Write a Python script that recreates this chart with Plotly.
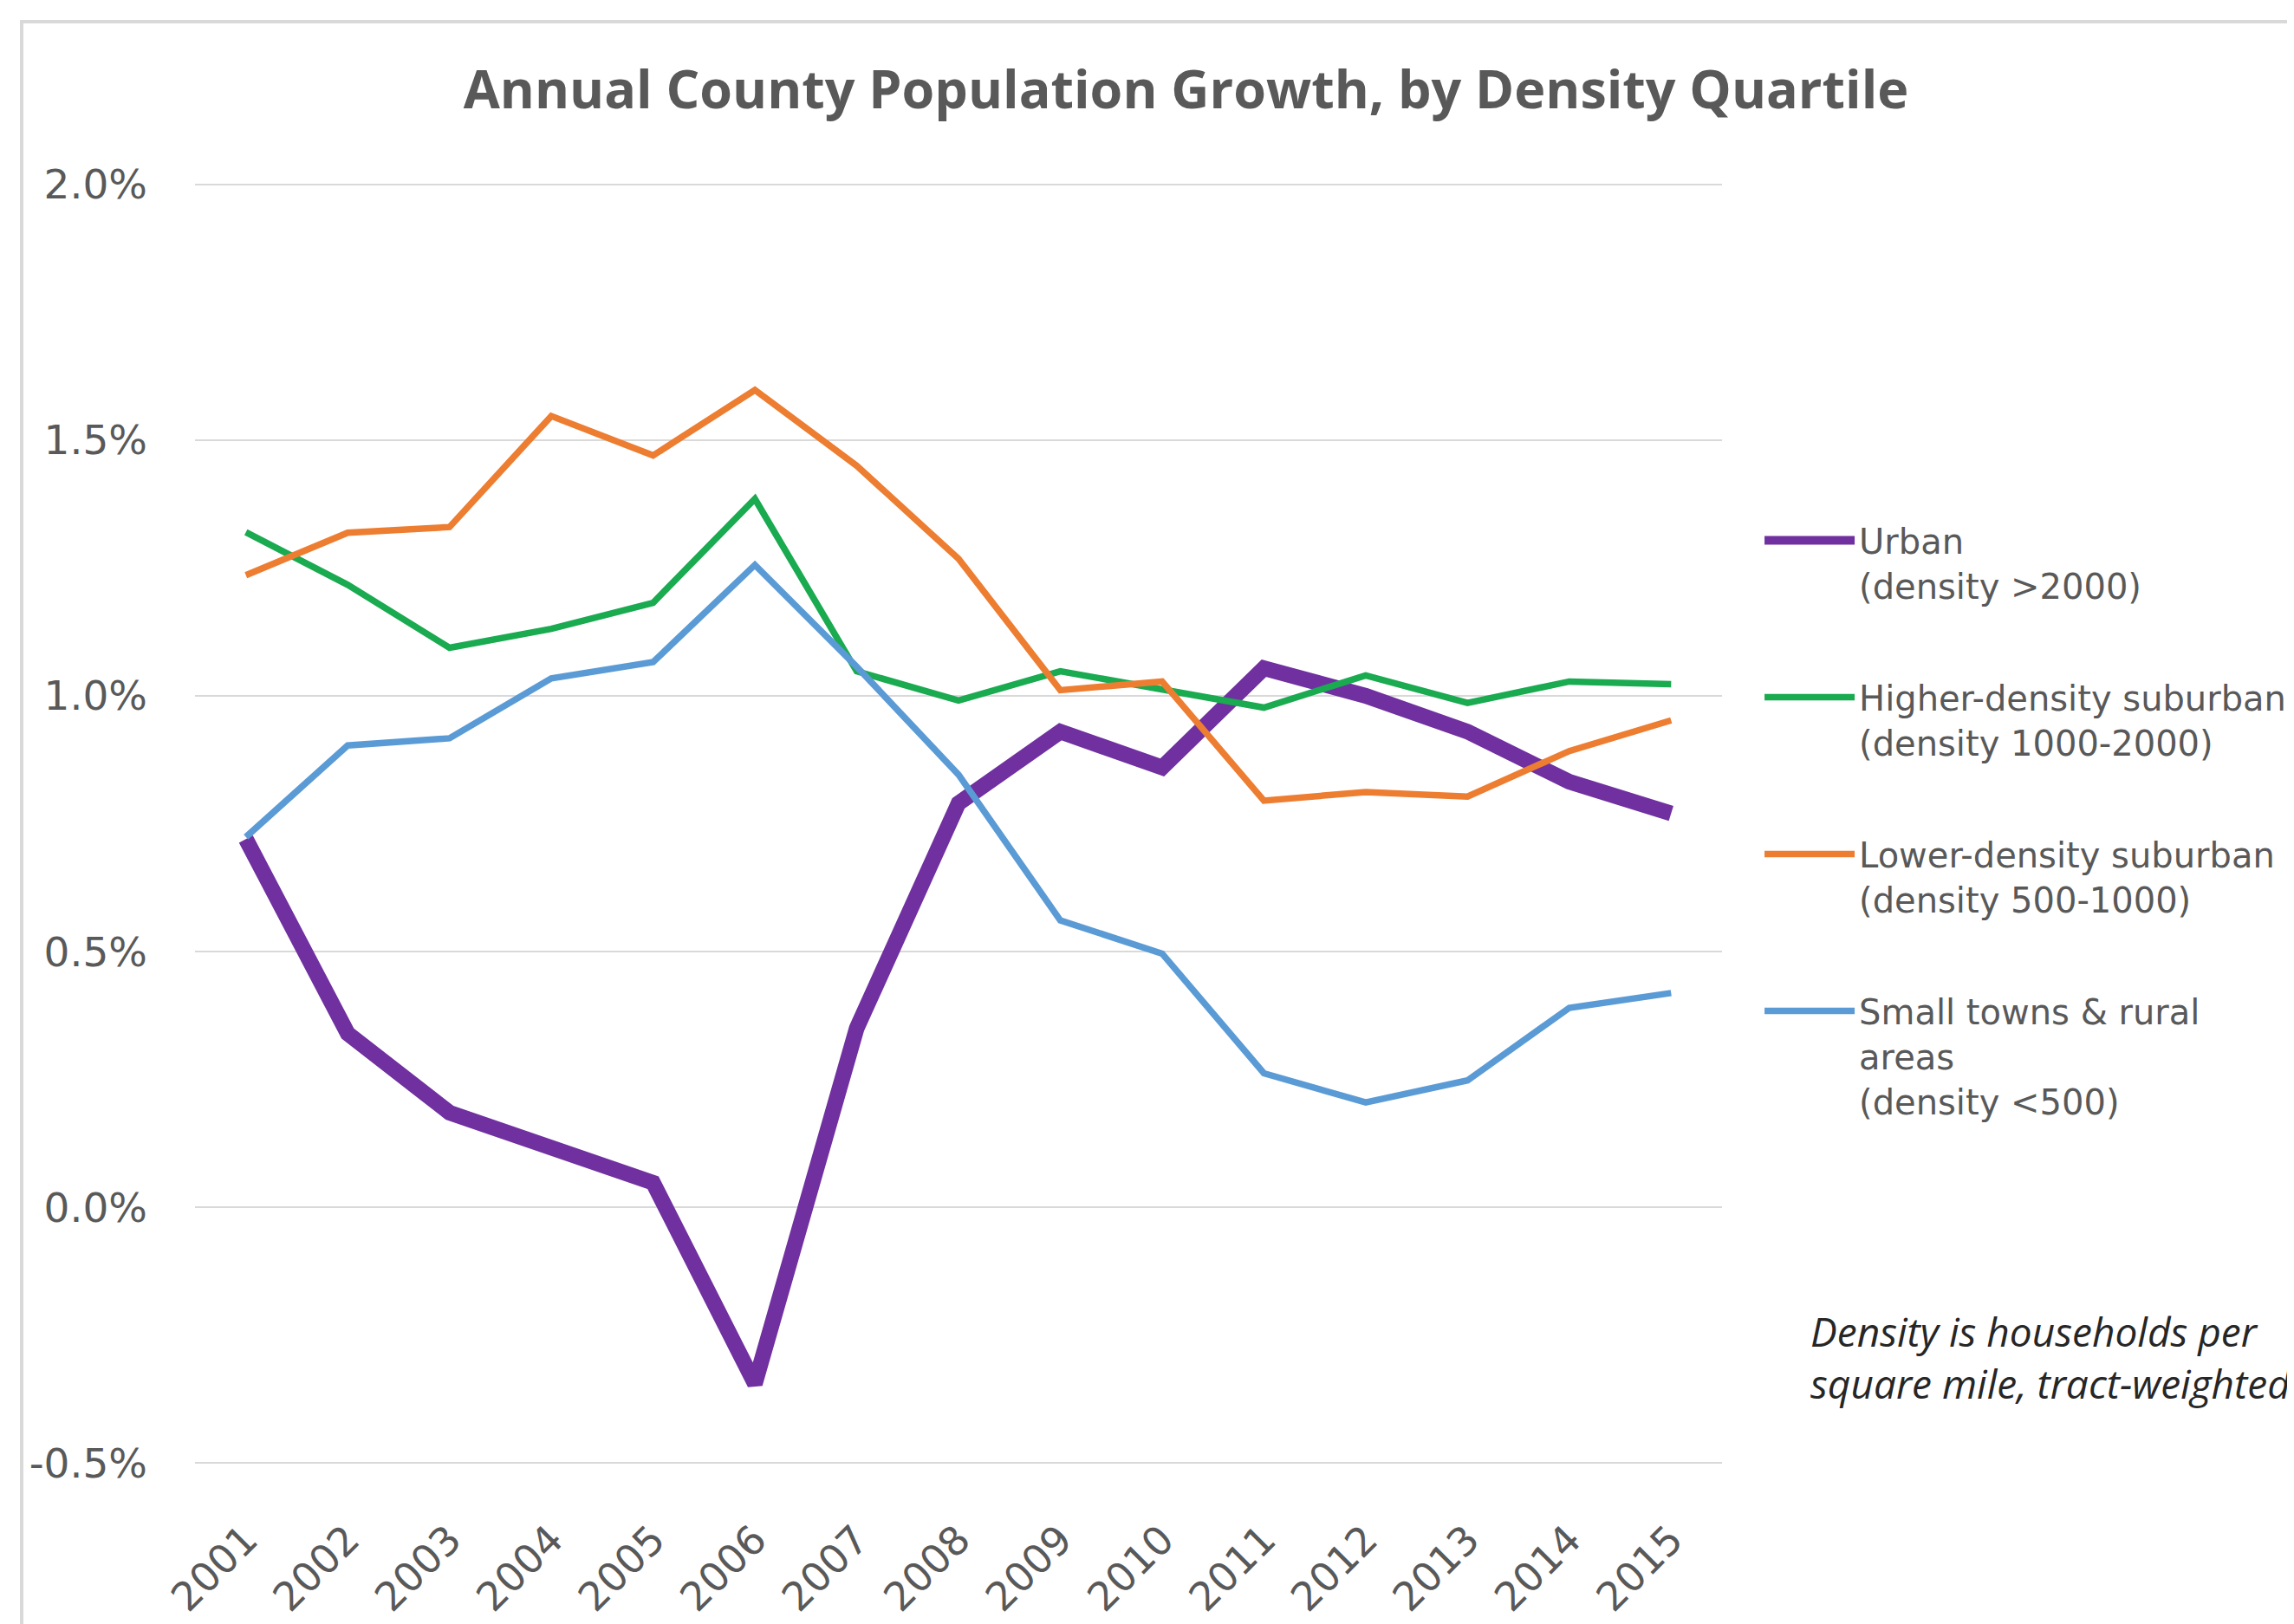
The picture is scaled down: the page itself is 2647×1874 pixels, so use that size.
import plotly.graph_objects as go

years = [str(y) for y in range(2001, 2016)]

urban = [0.72, 0.34, 0.185, 0.12, 0.048, -0.345, 0.35, 0.79, 0.93, 0.86, 1.054, 1.0, 0.93, 0.832, 0.77]
higher = [1.32, 1.217, 1.094, 1.131, 1.182, 1.385, 1.048, 0.991, 1.048, 1.011, 0.977, 1.04, 0.986, 1.028, 1.023]
lower = [1.236, 1.319, 1.33, 1.547, 1.47, 1.598, 1.45, 1.268, 1.011, 1.028, 0.795, 0.812, 0.803, 0.892, 0.952]
rural = [0.724, 0.903, 0.917, 1.034, 1.066, 1.256, 1.057, 0.846, 0.561, 0.496, 0.262, 0.205, 0.248, 0.39, 0.419]

series_names = [
    "Urban<br>(density >2000)",
    "Higher-density suburban<br>(density 1000-2000)",
    "Lower-density suburban<br>(density 500-1000)",
    "Small towns & rural<br>areas<br>(density <500)",
]
series_values = [urban, higher, lower, rural]
series_colors = ["#7030A0", "#1AAA50", "#ED7D31", "#5B9BD5"]
series_widths = [18, 7.5, 7.5, 7.5]

y_ticks = [-0.5, 0.0, 0.5, 1.0, 1.5, 2.0]

title_text = "Annual County Population Growth, by Density Quartile"
note_text = "<i>Density is households per<br>square mile, tract-weighted</i>"

fig = go.Figure()
for i, (name, vals, col, w) in enumerate(zip(series_names, series_values, series_colors, series_widths)):
    fig.add_trace(go.Scatter(
        x=years, y=vals, mode="lines", name=name,
        line=dict(color=col, width=w),
        legendgroup=f"g{i}",
    ))

W, H = 2647, 1874
ml, mr, mt, mb = 217, 668, 203, 177
pw, ph = W - ml - mr, H - mt - mb

fig.update_layout(
    width=W, height=H,
    margin=dict(l=ml, r=mr, t=mt, b=mb),
    paper_bgcolor="white", plot_bgcolor="white",
    title=dict(
        text=title_text, x=0.514, xanchor="center", y=1 - 96 / H, yanchor="middle",
        xref="container", yref="container",
        font=dict(family="Open Sans", size=61, color="#595959", weight="bold"),
    ),
    font=dict(family="DejaVu Sans", color="#595959"),
    xaxis=dict(
        type="category", range=[-0.5, 14.5], showgrid=False, zeroline=False, showline=False,
        tickangle=-45, tickfont=dict(size=46, color="#595959"),
        ticks="outside", ticklen=40, tickcolor="rgba(0,0,0,0)",
    ),
    yaxis=dict(
        range=[-0.503, 2.003], tickvals=y_ticks, ticktext=[f"{v:.1f}%" for v in y_ticks],
        showgrid=True, gridcolor="#D9D9D9", gridwidth=2, zeroline=False, showline=False,
        tickfont=dict(size=47, color="#595959"), ticklabelstandoff=54,
    ),
    legend=dict(
        x=1.025, xanchor="left", y=0.743, yanchor="top",
        font=dict(family="DejaVu Sans", size=40, color="#595959"),
        valign="top", tracegroupgap=74, bgcolor="rgba(0,0,0,0)",
        itemwidth=104,
    ),
    showlegend=True,
    shapes=[dict(
        type="rect", xref="paper", yref="paper",
        x0=(17 - ml) / pw, x1=1.6,
        y0=-0.2, y1=(H - mb - 15) / ph,
        line=dict(color="#D9D9D9", width=4), fillcolor="rgba(0,0,0,0)", layer="below",
    )],
    annotations=[dict(
        text=note_text, xref="paper", yref="paper",
        x=(2079 - ml) / pw, y=(H - mb - 1508) / ph,
        xanchor="left", yanchor="top", align="left", showarrow=False,
        font=dict(family="Open Sans", size=46, color="#262626"),
    )],
)

fig.write_html("out.html")
